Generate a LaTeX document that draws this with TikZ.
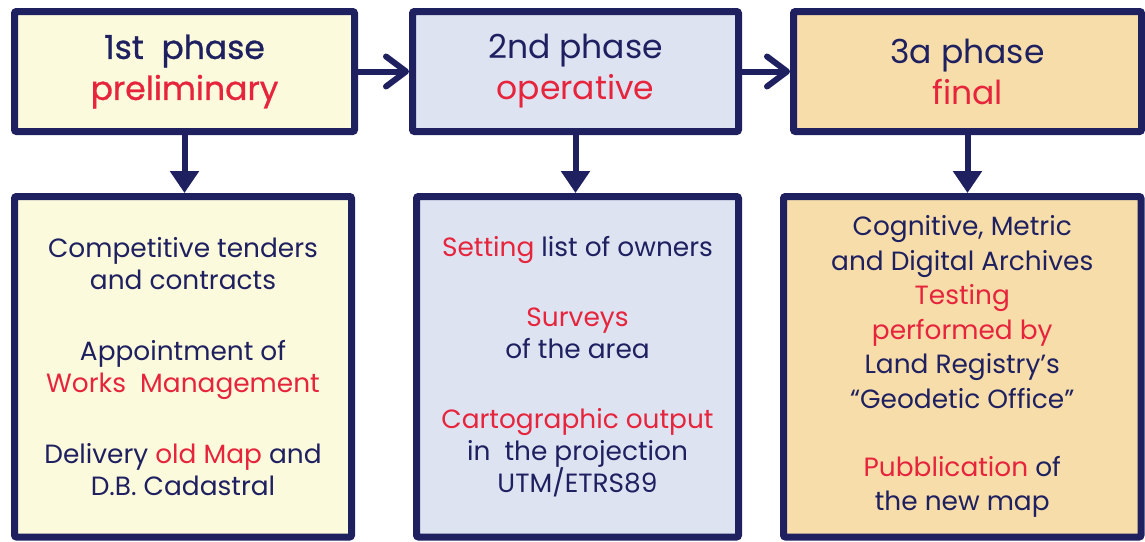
\documentclass[tikz,border=0pt]{standalone}
\usepackage{fontspec}
\setmainfont{Poppins}
\newfontfamily\medfont[FakeBold=0.8]{Poppins}
\usepackage{xcolor}
\usetikzlibrary{arrows.meta}
\definecolor{navy}{RGB}{30,32,96}
\definecolor{hot}{RGB}{230,36,60}
\definecolor{pale1}{RGB}{252,250,220}
\definecolor{pale2}{RGB}{222,227,242}
\definecolor{pale3}{RGB}{246,221,170}
\newcommand{\rd}[1]{\textcolor{hot}{#1}}

\begin{document}
\begin{tikzpicture}[x=0.5pt,y=-0.5pt,
    box/.style={draw=navy,line width=3.5pt,rounded corners=1pt,align=center,text=navy,inner sep=0pt},
    head/.style={box,minimum height=60pt,font=\fontsize{16.5}{20.5}\selectfont},
    body/.style={box,minimum height=170.25pt,font=\fontsize{13.2}{16}\selectfont}]
      \fill[white] (0,0) rectangle (1145,541);
      \useasboundingbox (0,0) rectangle (1145,541);

      % phases
      \node[head,fill=pale1,minimum width=170pt,font=\fontsize{16.5}{20.5}\medfont] (ph1) at (184.5,71.5) {1st\ \ phase\\\rd{preliminary}};
      \node[head,fill=pale2,minimum width=163pt] (ph2) at (575.5,71.5) {2nd phase\\\rd{operative}};
      \node[head,fill=pale3,minimum width=174pt] (ph3) at (967.5,71.5) {3a phase\\\rd{final}};

      % activities
      \node[body,fill=pale1,minimum width=168.5pt] (w1) at (183,366.75) {Competitive tenders\\and contracts\\[19.5pt]Appointment of\\\rd{Works\ \ Management}\\[19.5pt]Delivery \rd{old Map} and\\D.B. Cadastral};
      \node[body,fill=pale2,minimum width=161pt] (w2) at (577.5,366.75) {\rd{Setting} list of owners\\[19pt]\rd{Surveys}\\of the area\\[19pt]\rd{Cartographic output}\\in\ \ the projection\\UTM/ETRS89};
      \node[body,fill=pale3,minimum width=178.75pt,font=\fontsize{13.2}{17.25}\selectfont] (w3) at (962.25,366.75) {Cognitive, Metric\\and Digital Archives\\\rd{Testing}\\\rd{performed by}\\Land Registry’s\\“Geodetic Office”\\[16.75pt]\rd{Pubblication} of\\the new map};

      \foreach \i in {1,2,3}{
        \draw[navy,line width=3pt,-{Triangle[length=11pt,width=14pt]}] (ph\i.south) -- (ph\i.south |- w\i.north);
      }
      \foreach \i/\j in {1/2,2/3}{
        \draw[navy,line width=3pt,-{Straight Barb[length=10pt,width=15pt,round]}] (ph\i.east) -- (ph\j.west);
      }
\end{tikzpicture}
\end{document}
